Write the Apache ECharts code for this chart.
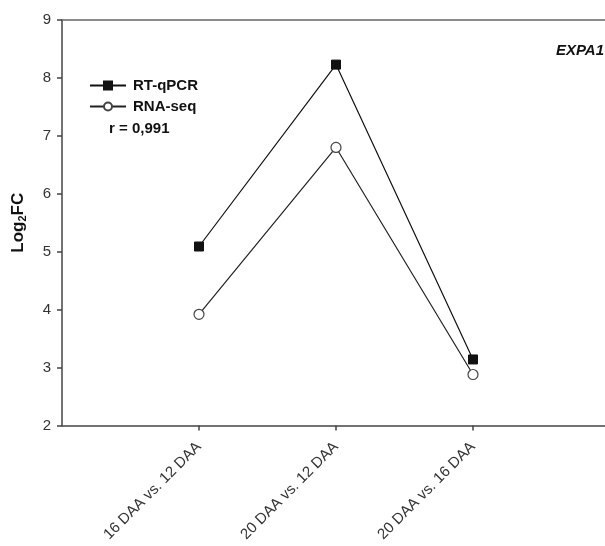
<!DOCTYPE html>
<html><head><meta charset="utf-8">
<script src="https://cdn.jsdelivr.net/npm/echarts@6/dist/echarts.min.js"></script>
<style>html,body{margin:0;padding:0;background:#fff}#c{width:605px;height:546px}</style>
</head><body><div id="c"></div>
<script>
const categories = ['', '16 DAA vs. 12 DAA', '20 DAA vs. 12 DAA', '20 DAA vs. 16 DAA', ''];
const rtqpcr = [null, 5.09, 8.23, 3.14, null];
const rnaseq = [null, 3.92, 6.80, 2.88, null];
const yTicks = [2, 3, 4, 5, 6, 7, 8, 9];
const geneName = 'EXPA1';
const corrText = 'r = 0,991';

const chart = echarts.init(document.getElementById('c'));
const font = 'Liberation Sans, Arial, sans-serif';
chart.setOption({
  animation: false,
  backgroundColor: '#fff',
  grid: {left: 62, top: 20, width: 548, bottom: 120.5, containLabel: false, outerBoundsMode: 'none'},
  legend: {
    orient: 'vertical', left: 84, top: 73, itemWidth: 36, itemHeight: 10, itemGap: 6,
    textStyle: {fontFamily: font, fontWeight: 'bold', fontSize: 15, color: '#111', padding: [0, 0, 0, 2]},
    data: ['RT-qPCR', 'RNA-seq']
  },
  graphic: [
    {type: 'text', left: 109, top: 121, style: {text: corrText, font: 'bold 15px ' + font, fill: '#111'}},
    {type: 'text', right: 1, top: 43, style: {text: geneName, font: 'italic bold 15px ' + font, fill: '#111'}}
  ],
  xAxis: [{
    type: 'category', data: categories, boundaryGap: false,
    axisLine: {lineStyle: {color: '#444', width: 1.5}},
    axisTick: {length: 5, interval: (i) => i >= 1 && i <= 3, lineStyle: {color: '#444', width: 1.5}},
    axisLabel: {rotate: 45, interval: 0, fontFamily: font, fontSize: 15, color: '#333', margin: 19},
    splitLine: {show: false}
  }, {
    type: 'category', data: categories, boundaryGap: false, position: 'top',
    axisLine: {lineStyle: {color: '#666', width: 1.5}},
    axisTick: {show: false}, axisLabel: {show: false}
  }],
  yAxis: {
    type: 'value', min: yTicks[0], max: yTicks[yTicks.length - 1], interval: 1,
    name: '{a|Log}{s|2}{a|FC}', nameLocation: 'middle', nameGap: 34, nameRotate: 90,
    nameTextStyle: {rich: {
      a: {fontFamily: font, fontWeight: 'bold', fontSize: 17, color: '#111'},
      s: {fontFamily: font, fontWeight: 'bold', fontSize: 11, color: '#111', verticalAlign: 'bottom', padding: [9, 0, 0, 0]}
    }},
    axisLine: {show: true, lineStyle: {color: '#444', width: 1.5}},
    axisTick: {show: true, length: 5, lineStyle: {color: '#444', width: 1.5}},
    axisLabel: {fontFamily: font, fontSize: 15, color: '#333', margin: 11},
    splitLine: {show: false}
  },
  series: [{
    name: 'RT-qPCR', type: 'line', data: rtqpcr, connectNulls: false,
    symbol: 'rect', symbolSize: 9, lineStyle: {color: '#111', width: 1.2},
    itemStyle: {color: '#111', borderColor: '#111', borderWidth: 1}
  }, {
    name: 'RNA-seq', type: 'line', data: rnaseq,
    symbol: 'circle', symbolSize: 10, lineStyle: {color: '#222', width: 1.2},
    itemStyle: {color: '#fff', borderColor: '#444', borderWidth: 1.2}
  }]
});
</script></body></html>
